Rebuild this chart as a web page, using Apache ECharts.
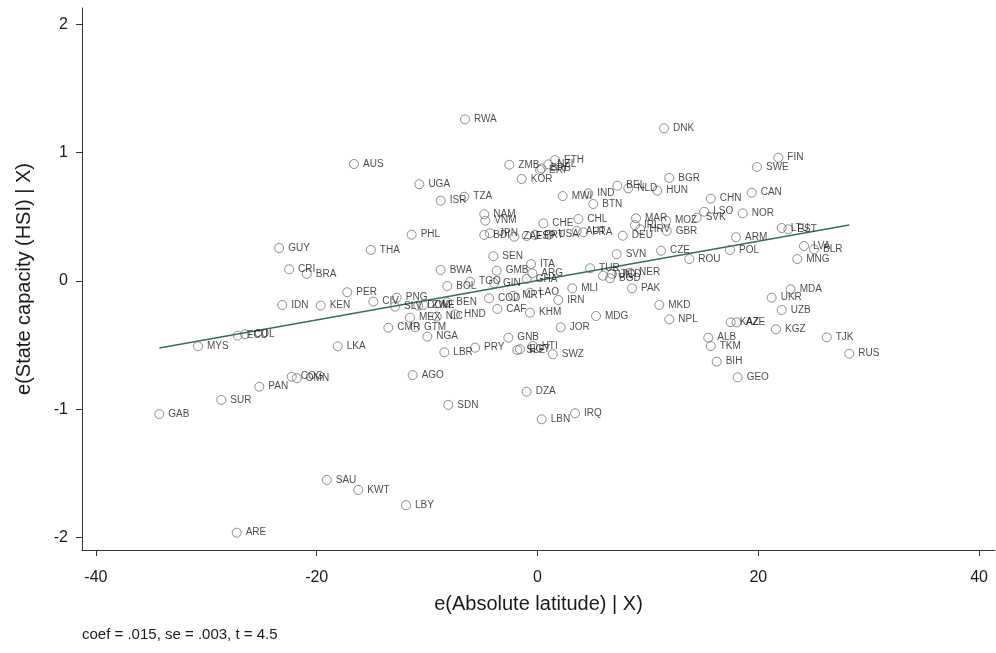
<!DOCTYPE html>
<html>
<head>
<meta charset="utf-8">
<script src="https://cdn.jsdelivr.net/npm/echarts@6/dist/echarts.min.js"></script>
<style>
html,body{margin:0;padding:0;background:#fff;}
#chart{width:996px;height:653px;}
</style>
</head>
<body>
<div id="chart"></div>
<script>
const countries = ["AUS","GUY","CRI","BRA","THA","PHL","UGA","RWA","ZMB","NZL","ETH","ERI","BRB","KOR","TZA","ISR","MWI","IND","BTN","BEL","NLD","HUN","NAM","VNM","CHE","CHL","AUT","FRA","BDI","JPN","ZAF","ESP","PRT","USA","DEU","MAR","IRL","HRV","MOZ","GBR","SEN","SVN","BWA","GMB","ITA","ARG","GHA","TUR","TUN","BGD","TCD","NER","MLI","PAK","BOL","TGO","GIN","COD","MRT","LAO","IRN","CAF","KHM","MDG","JOR","BEN","HND","NIC","MEX","PNG","SLV","DOM","ZWE","CIV","CMR","GTM","NGA","GNB","LBR","PRY","HTI","SLE","EGY","SWZ","AGO","SDN","DZA","LBN","IRQ","PER","IDN","KEN","ECU","COL","MYS","LKA","COG","OMN","PAN","SUR","GAB","SAU","KWT","LBY","ARE","DNK","FIN","SWE","BGR","CHN","CAN","LSO","SVK","NOR","LTU","EST","ARM","POL","CZE","ROU","LVA","BLR","MNG","MDA","UKR","UZB","MKD","NPL","KAZ","AZE","KGZ","ALB","TKM","BIH","GEO","TJK","RUS"];
const latitudeResid = [-16.62,-23.4,-22.5,-20.9,-15.1,-11.4,-10.7,-6.57,-2.55,0.98,1.59,0.23,0.36,-1.43,-6.63,-8.77,2.28,4.6,5.05,7.23,8.22,10.85,-4.82,-4.73,0.53,3.70,3.55,4.15,-4.82,-4.30,-2.10,-0.98,-0.23,1.07,7.72,8.92,8.83,9.3,11.64,11.70,-4.0,7.17,-8.77,-3.70,-0.59,-0.47,-0.98,4.76,5.93,6.57,6.75,8.38,3.15,8.56,-8.17,-6.11,-3.94,-4.39,-2.2,-0.68,1.88,-3.64,-0.68,5.30,2.10,-8.17,-7.47,-9.13,-11.55,-12.75,-12.91,-10.8,-10.34,-14.87,-13.51,-11.1,-9.98,-2.64,-8.44,-5.66,-0.44,-1.83,-1.59,1.38,-11.31,-8.08,-0.98,0.38,3.40,-17.23,-23.12,-19.64,-27.16,-26.5,-30.75,-18.1,-22.26,-21.8,-25.2,-28.64,-34.26,-19.09,-16.23,-11.91,-27.25,11.46,21.81,19.88,11.94,15.69,19.4,15.1,14.42,18.59,22.12,22.72,17.98,17.44,11.19,13.75,24.14,25.05,23.53,22.93,21.21,22.12,11.03,11.94,17.5,18.04,21.6,15.47,15.69,16.23,18.13,26.2,28.24];
const stateCapResid = [0.912,0.257,0.091,0.055,0.242,0.361,0.754,1.26,0.906,0.909,0.943,0.865,0.877,0.795,0.657,0.626,0.662,0.683,0.60,0.743,0.722,0.704,0.52,0.47,0.449,0.483,0.39,0.38,0.359,0.372,0.345,0.351,0.359,0.361,0.353,0.489,0.436,0.403,0.47,0.39,0.193,0.21,0.086,0.08,0.132,0.06,0.016,0.099,0.041,0.021,0.055,0.065,-0.057,-0.057,-0.039,-0.005,-0.016,-0.135,-0.115,-0.091,-0.148,-0.218,-0.247,-0.273,-0.361,-0.166,-0.26,-0.278,-0.286,-0.13,-0.2,-0.192,-0.187,-0.161,-0.364,-0.36,-0.434,-0.442,-0.556,-0.52,-0.507,-0.538,-0.532,-0.571,-0.733,-0.966,-0.863,-1.078,-1.031,-0.088,-0.187,-0.192,-0.426,-0.415,-0.509,-0.509,-0.746,-0.758,-0.824,-0.927,-1.037,-1.551,-1.629,-1.748,-1.962,1.19,0.961,0.889,0.803,0.642,0.688,0.54,0.493,0.527,0.413,0.403,0.341,0.242,0.236,0.171,0.273,0.247,0.171,-0.065,-0.13,-0.226,-0.187,-0.299,-0.322,-0.322,-0.377,-0.442,-0.507,-0.629,-0.751,-0.439,-0.567];
const fitX = [-34.26, 28.24];
const fitY = [-0.522, 0.436];
const xTicks = [-40, -20, 0, 20, 40];
const yTicks = [-2, -1, 0, 1, 2];
const xTitle = "e(Absolute latitude) | X)";
const yTitle = "e(State capacity (HSI) | X)";
const note = "coef = .015, se = .003, t = 4.5";

const FONT = "'Liberation Sans', Arial, sans-serif";
const chart = echarts.init(document.getElementById('chart'), null, {renderer: 'canvas'});
const pts = countries.map((c, i) => ({name: c, value: [latitudeResid[i], stateCapResid[i]]}));
const axisCommon = {
  axisLine: {show: true, onZero: false, lineStyle: {color: '#333', width: 1}},
  axisTick: {show: true, length: 6, lineStyle: {color: '#333', width: 1}},
  splitLine: {show: false},
  nameTextStyle: {fontFamily: FONT, fontSize: 20, color: '#1a1a1a'},
};
chart.setOption({
  animation: false,
  backgroundColor: '#ffffff',
  grid: {left: 82, right: 1, top: 8, bottom: 103},
  xAxis: Object.assign({}, axisCommon, {
    type: 'value', min: -41.26, max: 41.44,
    name: xTitle, nameLocation: 'middle', nameGap: 44,
    axisTick: Object.assign({}, axisCommon.axisTick, {customValues: xTicks}),
    axisLabel: {customValues: xTicks, margin: 20, fontFamily: FONT, fontSize: 16, color: '#1a1a1a'}
  }),
  yAxis: Object.assign({}, axisCommon, {
    type: 'value', min: -2.097, max: 2.128,
    name: yTitle, nameLocation: 'middle', nameGap: 48,
    axisTick: Object.assign({}, axisCommon.axisTick, {customValues: yTicks}),
    axisLabel: {customValues: yTicks, margin: 14, fontFamily: FONT, fontSize: 16, color: '#1a1a1a'}
  }),
  graphic: [{
    type: 'text', left: 82, top: 627,
    style: {text: note, fontFamily: FONT, fontSize: 15, fill: '#1a1a1a'}
  }],
  series: [
    {
      type: 'scatter', data: pts, symbol: 'circle', symbolSize: 9,
      itemStyle: {color: 'rgba(255,255,255,0)', borderColor: '#707070', borderWidth: 1},
      label: {show: true, position: 'right', distance: 4, formatter: p => p.name,
        fontFamily: FONT, fontSize: 10, color: '#1a1a1a'},
      z: 3
    },
    {
      type: 'line', data: fitX.map((x, i) => [x, fitY[i]]), symbol: 'none',
      lineStyle: {color: '#2f6f62', width: 1.4}, z: 2
    }
  ]
});
</script>
</body>
</html>
